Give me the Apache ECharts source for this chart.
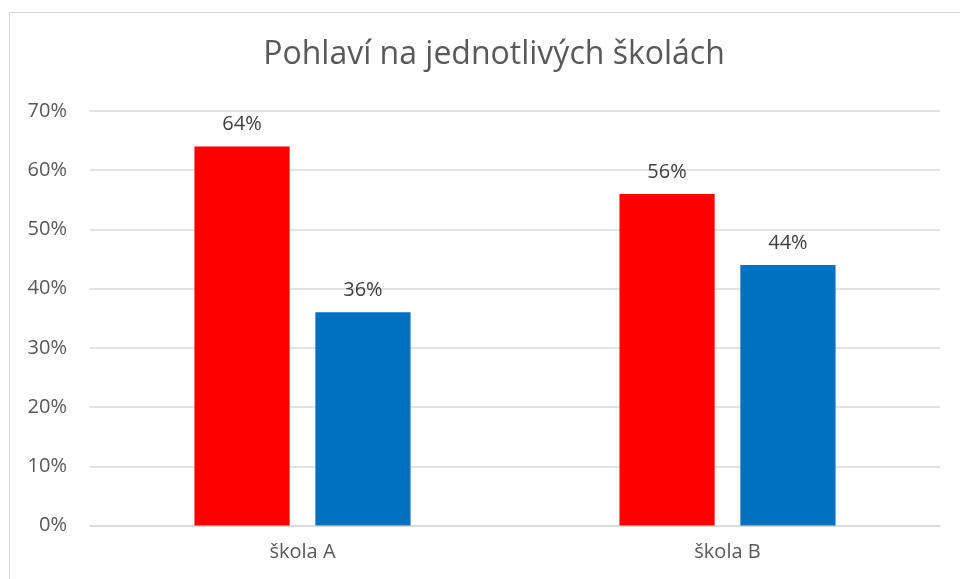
<!DOCTYPE html>
<html><head><meta charset="utf-8">
<script src="https://cdn.jsdelivr.net/npm/echarts@6/dist/echarts.min.js"></script>
<style>html,body{margin:0;padding:0;background:#fff}#c{width:960px;height:579px}</style>
</head><body><div id="c"></div>
<script>
const categories = ['škola A', 'škola B'];
const seriesRed = [64, 56];
const seriesBlue = [36, 44];
const yTicks = [0, 10, 20, 30, 40, 50, 60, 70];

const chart = echarts.init(document.getElementById('c'));
const font = '"Open Sans", sans-serif';
const lbl = {show: true, position: 'top', distance: 12, color: '#404040', fontSize: 20, fontFamily: font, formatter: p => p.value + '%'};
chart.setOption({
  animation: false,
  title: {text: 'Pohlaví na jednotlivých školách', left: 489, top: 34, textAlign: 'center',
    textStyle: {fontFamily: font, fontSize: 32, fontWeight: 'normal', color: '#595959'}},
  graphic: [{type: 'rect', shape: {x: 9.5, y: 12.5, width: 1200, height: 1200}, style: {fill: 'none', stroke: '#d9d9d9', lineWidth: 1}, silent: true}],
  grid: {left: 90, right: 20, top: 111, bottom: 53.5},
  xAxis: {type: 'category', data: categories,
    axisLine: {lineStyle: {color: '#d9d9d9', width: 1.5}}, axisTick: {show: false},
    axisLabel: {color: '#595959', fontSize: 20, fontFamily: font, margin: 17}},
  yAxis: {type: 'value', min: yTicks[0], max: yTicks[yTicks.length-1], interval: 10,
    axisLine: {show: false}, axisTick: {show: false},
    splitLine: {lineStyle: {color: '#d9d9d9', width: 1.5}},
    axisLabel: {color: '#595959', fontSize: 20, fontFamily: font, margin: 23, formatter: v => v + '%'}},
  series: [
    {type: 'bar', data: seriesRed, barWidth: '22.4%', barGap: '27%', itemStyle: {color: '#ff0000'}, label: lbl},
    {type: 'bar', data: seriesBlue, barWidth: '22.4%', itemStyle: {color: '#0070c0'}, label: lbl}
  ]
});
</script></body></html>
